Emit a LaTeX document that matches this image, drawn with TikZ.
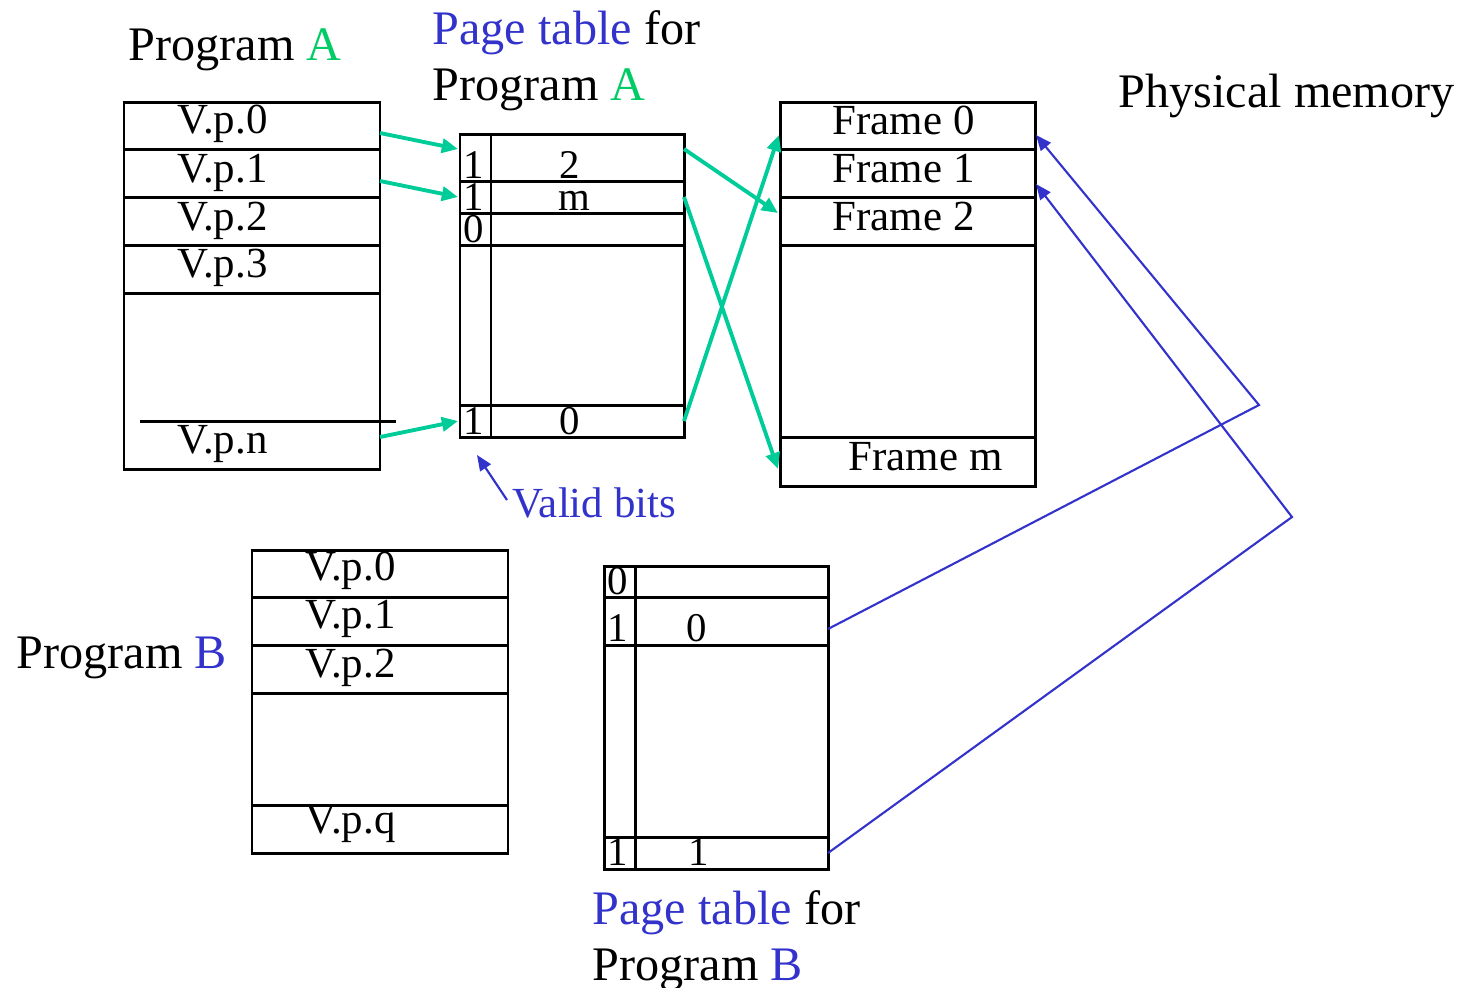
\documentclass[tikz,border=0pt]{standalone}
\usepackage{fontspec}
\setmainfont{Liberation Serif}
\usetikzlibrary{arrows.meta}
\definecolor{mapgreen}{RGB}{0,204,153}
\definecolor{namegreen}{RGB}{0,204,102}
\definecolor{noteblue}{RGB}{51,51,204}
\tikzset{
  cell/.style={anchor=base west, inner sep=0pt, font=\fontsize{12.2}{14}\selectfont},
  bit/.style={anchor=base west, inner sep=0pt, text depth=0pt, font=\fontsize{11.6}{13}\selectfont},
  title/.style={anchor=base west, inner sep=0pt, font=\fontsize{13.7}{16}\selectfont},
  box/.style={line width=0.85pt},
  maparrow/.style={mapgreen, line width=1.1pt, -{Triangle[length=4.6pt,width=4pt]}},
  backlink/.style={noteblue, line width=0.6pt, -{Triangle[length=4.4pt,width=3.6pt]}}
}
\begin{document}
\begin{tikzpicture}[x=0.01cm,y=-0.01cm]
\useasboundingbox (0,0) rectangle (1460,987);
% titles
\node[title] (progA) at (128,60) {Program {\color{namegreen}A}};
\node[title] (ptAtop) at (432,44) {{\color{noteblue}Page table} for};
\node[title] (ptAbot) at (432,100) {Program {\color{namegreen}A}};
\node[title] (phys) at (1118,107) {Physical memory};
\node[title] (progB) at (16,668) {Program {\color{noteblue}B}};
\node[title] (ptBtop) at (592,924) {{\color{noteblue}Page table} for};
\node[title] (ptBbot) at (592,980) {Program {\color{noteblue}B}};
% Program A
\draw[box] (124,102) rectangle (380,469);
\foreach \y in {149,197,245,293}
  \draw[box] (124,\y) -- (380,\y);
\draw[box] (140,421) -- (396,421);
\node[cell] (a0) at (177,133) {V.p.0};
\node[cell] (a1) at (177,182) {V.p.1};
\node[cell] (a2) at (177,230) {V.p.2};
\node[cell] (a3) at (177,277) {V.p.3};
\node[cell] (an) at (177,453) {V.p.n};
% page table A
\draw[box] (460,134) rectangle (684,437);
\foreach \y in {181,213,245,405}
  \draw[box] (460,\y) -- (684,\y);
\draw[box] (491,134) -- (491,437);
\node[bit] (va1) at (463,178) {1};
\node[bit] (fa1) at (559,178) {2};
\node[bit] (va2) at (463,210) {1};
\node[bit] (fa2) at (558,210) {m};
\node[bit] (va3) at (463,242) {0};
\node[bit] (van) at (463,434) {1};
\node[bit] (fan) at (559,434) {0};
% physical memory
\draw[box] (780,102) rectangle (1035,486);
\foreach \y in {149,197,245,437}
  \draw[box] (780,\y) -- (1035,\y);
\node[cell] (fr0) at (832,134) {Frame 0};
\node[cell] (fr1) at (832,182) {Frame 1};
\node[cell] (fr2) at (832,230) {Frame 2};
\node[cell] (frm) at (848,470) {Frame m};
% Program B
\draw[box] (252,550) rectangle (508,853);
\foreach \y in {597,645,693,805}
  \draw[box] (252,\y) -- (508,\y);
\node[cell] (b0) at (305,580) {V.p.0};
\node[cell] (b1) at (305,628) {V.p.1};
\node[cell] (b2) at (305,677) {V.p.2};
\node[cell] (bq) at (305,833) {V.p.q};
% page table B
\draw[box] (604,566) rectangle (828,869);
\foreach \y in {597,645,837}
  \draw[box] (604,\y) -- (828,\y);
\draw[box] (635,566) -- (635,869);
\node[bit] (vb0) at (607,594) {0};
\node[bit] (vb1) at (607,641) {1};
\node[bit] (fb1) at (686,641) {0};
\node[bit] (vbq) at (607,865) {1};
\node[bit] (fbq) at (688,865) {1};
% connector ends
\coordinate (a0out) at (380,133);
\coordinate (a1out) at (380,181);
\coordinate (anout) at (380,437);
\coordinate (pa1in) at (458,149);
\coordinate (pa2in) at (458,197);
\coordinate (panin) at (458,421);
\coordinate (pa1out) at (684,149);
\coordinate (pa2out) at (684,197);
\coordinate (panout) at (684,421);
\coordinate (fr0in) at (779,135);
\coordinate (fr2in) at (778,213);
\coordinate (frmin) at (778,469);
\coordinate (pb1out) at (828,629);
\coordinate (pbqout) at (828,853);
\coordinate (bendone) at (1259,405);
\coordinate (bendtwo) at (1292,517);
\coordinate (fr0back) at (1036,135);
\coordinate (fr1back) at (1036,184);
% Program A -> page table A
\draw[maparrow] (a0out) -- (pa1in);
\draw[maparrow] (a1out) -- (pa2in);
\draw[maparrow] (anout) -- (panin);
% page table A -> frames
\draw[maparrow] (pa1out) -- (fr2in);
\draw[maparrow] (pa2out) -- (frmin);
\draw[maparrow] (panout) -- (fr0in);
% page table B -> frames
\draw[backlink] (pbqout) -- (bendtwo) -- (fr1back);
\draw[backlink] (pb1out) -- (bendone) -- (fr0back);
% valid bits
\node[cell, text=noteblue] (valid) at (512,517) {Valid bits};
\coordinate (validtip) at (477,455);
\draw[backlink] (507,500) -- (validtip);
\end{tikzpicture}
\end{document}
